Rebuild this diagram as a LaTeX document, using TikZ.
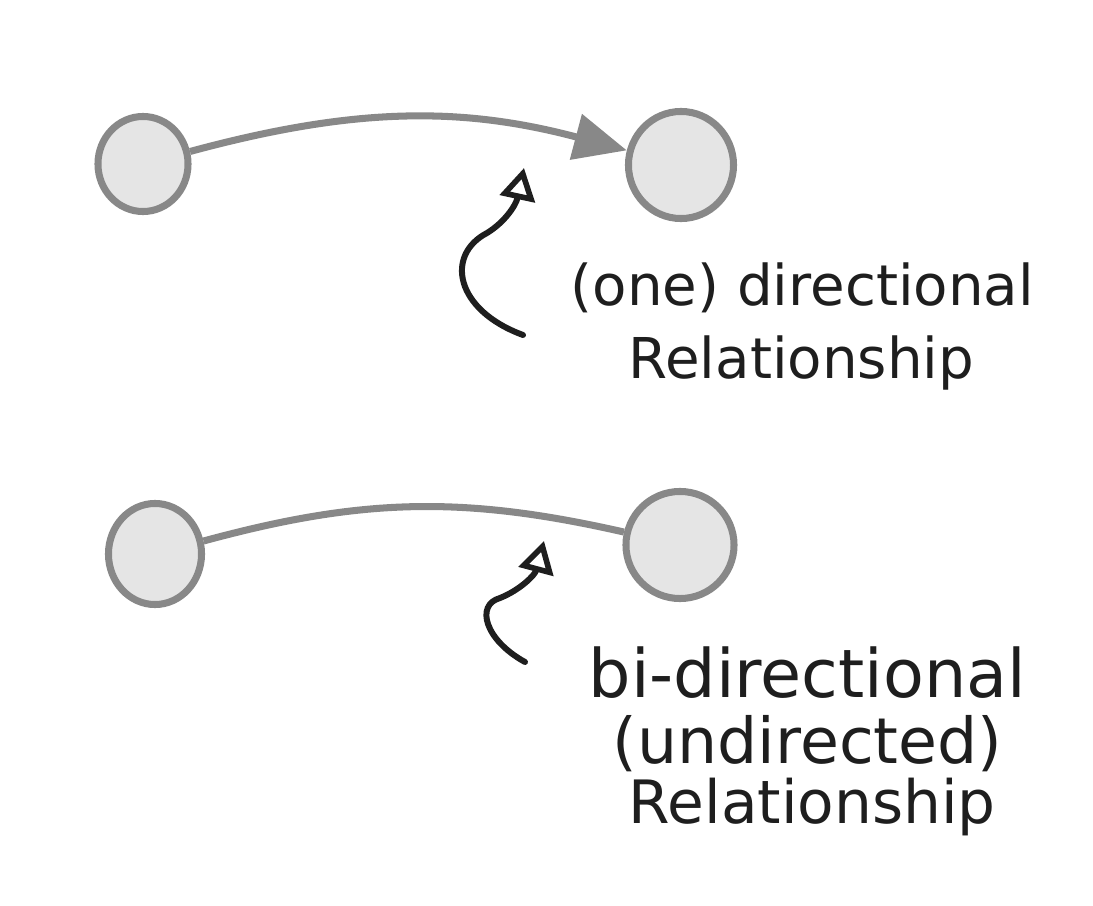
\documentclass[tikz,border=0pt]{standalone}
\usepackage{fontspec}
\setsansfont{DejaVu Sans}
\usetikzlibrary{arrows.meta,shapes.geometric}

\definecolor{edgegray}{HTML}{888888}
\definecolor{blobfill}{HTML}{E5E5E5}
\definecolor{ink}{HTML}{1E1E1E}

\tikzset{
  blob/.style={ellipse, draw=edgegray, fill=blobfill, line width=2pt, inner sep=0pt},
  rel/.style={color=edgegray, line width=2pt},
  note/.style={draw=ink, line width=1.7pt, line cap=round, -{Triangle[open,length=9pt,width=10pt,line width=1.6pt]}},
  caption/.style={anchor=base west, inner sep=0pt, text=ink, font=\sffamily\fontsize{16}{19}\selectfont},
}

\begin{document}
\begin{tikzpicture}[x=0.01cm,y=-0.01cm]
            \useasboundingbox (0,0) rectangle (1093,906);
            % one directional
            \node[blob, minimum width=0.90cm, minimum height=0.95cm] (a_1) at (143,164) {};
            \node[blob, minimum width=1.05cm, minimum height=1.07cm] (b_1) at (681,165) {};
            \path[rel, -{Triangle[length=15pt,width=13pt]}] (a_1) edge [bend left=15] (b_1);
            % bi-directional
            \node[blob, minimum width=0.93cm, minimum height=1.01cm] (a_2) at (155,554) {};
            \node[blob, minimum width=1.08cm, minimum height=1.07cm] (b_2) at (680,545) {};
            \path[rel] (a_2) edge [bend left=14] (b_2);
            % notes
            \node[caption] (one)  at (570,305) {(one) directional};
            \node[caption] (rel1) at (628,378) {Relationship};
            \node[caption, font=\sffamily\fontsize{19}{22}\selectfont] (bi) at (588,697) {bi-directional};
            \node[caption, font=\sffamily\fontsize{18}{21}\selectfont] (und) at (612,763) {(undirected)};
            \node[caption, font=\sffamily\fontsize{17}{20}\selectfont] (rel2) at (628,823) {Relationship};
            \coordinate (s_1) at (523,335);
            \coordinate (t_1) at (524,168);
            \coordinate (s_2) at (525,662);
            \coordinate (t_2) at (544,541);
            \draw[note] (s_1) .. controls (455,310) and (445,255) .. (487,233)
                              .. controls (505,222) and (516,205) .. (t_1);
            \draw[note] (s_2) .. controls (485,640) and (475,605) .. (500,598)
                              .. controls (520,590) and (535,575) .. (t_2);
          \end{tikzpicture}
\end{document}
